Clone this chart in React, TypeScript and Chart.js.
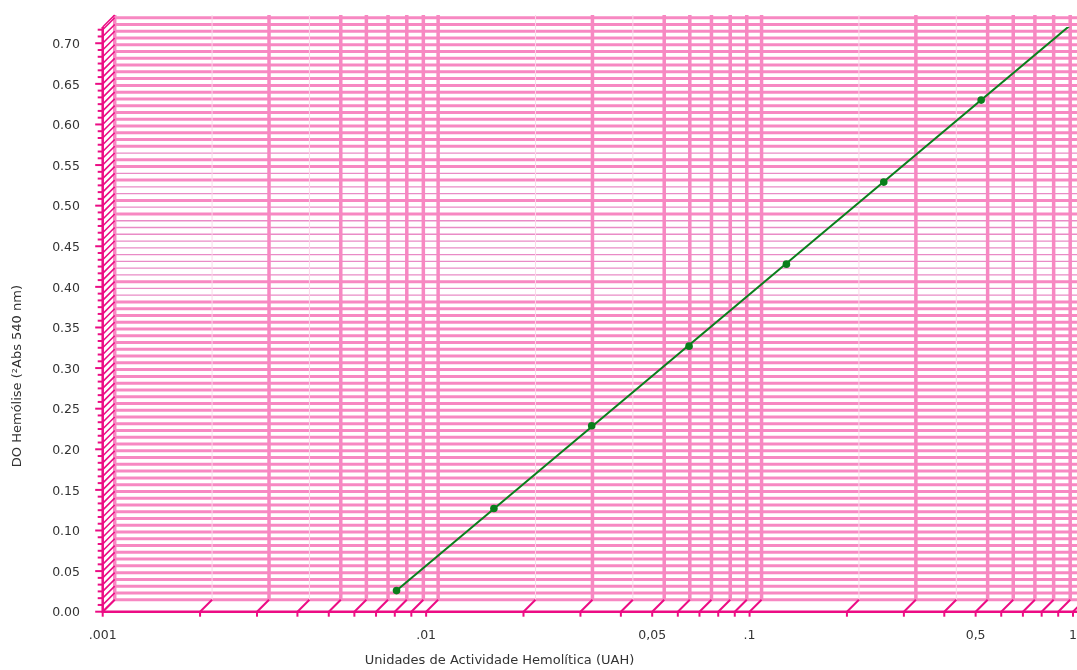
import React, { useEffect, useRef } from 'react';
import { Chart, registerables } from 'chart.js';

Chart.register(...registerables);

// ---- data ----
const sampleUAH = [0.0081, 0.0162, 0.0325, 0.065, 0.13, 0.26, 0.52];
const sampleDO = [0.026, 0.127, 0.229, 0.327, 0.428, 0.529, 0.63];
const fitUAH = [0.0081, 1];
const fitDO = [0.026, 0.725];

const xLabelValues = [0.001, 0.01, 0.05, 0.1, 0.5, 1];
const xLabelTexts = ['.001', '.01', '0,05', '.1', '0,5', '1'];
const xDecades = [0.001, 0.01, 0.1];
const xMultipliers = [1, 2, 3, 4, 5, 6, 7, 8, 9];
const xFaintMultipliers = [2, 4];

const yLabelTexts = ['0.00', '0.05', '0.10', '0.15', '0.20', '0.25', '0.30', '0.35', '0.40', '0.45', '0.50', '0.55', '0.60', '0.65', '0.70'];
const yMajorStep = 0.05;
const yMinorPerMajor = 6;
const yMax = 0.72;
const yThinRows = [45, 46, 48, 49, 50, 51, 52, 53, 54, 55, 56, 58, 60, 61, 63, 66];

const xTitle = 'Unidades de Actividade Hemolítica (UAH)';
const yTitle = 'DO Hemólise (²Abs 540 nm)';

// ---- derived tick lists ----
const xGrid: { v: number; m: number }[] = [];
xDecades.forEach((d) => xMultipliers.forEach((m) => xGrid.push({ v: +(d * m).toPrecision(6), m })));
xGrid.push({ v: 1, m: 1 });

const yGrid: number[] = [];
for (let k = 0; k * (yMajorStep / yMinorPerMajor) <= yMax + 1e-9; k++) {
  yGrid.push(+(k * (yMajorStep / yMinorPerMajor)).toFixed(6));
}

const FONT = "'DejaVu Sans', Verdana, sans-serif";
const DEEP = '#ec0c84';
const PINK = '#f788c2';
const THIN = '#e98bc6';
const FAINT = '#fbd8ea';
const GREEN = '#0a7f1c';
const TEXT = '#333333';
const D = 12;

const wallPlugin = {
  id: 'wall3d',
  beforeDatasetsDraw(chart: any) {
    const { ctx, chartArea: a, scales } = chart;
    const x = scales.x;
    const y = scales.y;
    const W = chart.width;
    ctx.save();
    ctx.lineCap = 'butt';
    const backTop = a.top - D;
    const backBottom = a.bottom - D;
    // horizontal back-wall lines
    yGrid.forEach((v, k) => {
      const py = y.getPixelForValue(v) - D;
      const thin = yThinRows.includes(k);
      ctx.strokeStyle = thin ? THIN : PINK;
      ctx.lineWidth = thin ? 1.3 : 3;
      ctx.beginPath();
      ctx.moveTo(a.left + D, py);
      ctx.lineTo(W, py);
      ctx.stroke();
    });
    // vertical back-wall lines
    xGrid.forEach(({ v, m }) => {
      const px = x.getPixelForValue(v) + D;
      const faint = xFaintMultipliers.includes(m);
      ctx.strokeStyle = faint ? FAINT : PINK;
      ctx.lineWidth = faint ? 1 : 3.5;
      ctx.beginPath();
      ctx.moveTo(px, backTop);
      ctx.lineTo(px, backBottom);
      ctx.stroke();
    });
    // left wall hatch
    ctx.strokeStyle = DEEP;
    ctx.lineWidth = 1.6;
    yGrid.forEach((v) => {
      const py = y.getPixelForValue(v);
      ctx.beginPath();
      ctx.moveTo(a.left, py);
      ctx.lineTo(a.left + D, py - D);
      ctx.stroke();
    });
    ctx.beginPath();
    ctx.moveTo(a.left, a.top);
    ctx.lineTo(a.left + D, a.top - D);
    ctx.stroke();
    // floor marks
    ctx.lineWidth = 2;
    xGrid.forEach(({ v }) => {
      const px = x.getPixelForValue(v);
      ctx.beginPath();
      ctx.moveTo(px, a.bottom);
      ctx.lineTo(px + D, a.bottom - D);
      ctx.stroke();
    });
    // front axes
    ctx.lineWidth = 2.5;
    ctx.beginPath();
    ctx.moveTo(a.left, a.top);
    ctx.lineTo(a.left, a.bottom);
    ctx.lineTo(W, a.bottom);
    ctx.stroke();
    // y ticks
    ctx.lineWidth = 2;
    yGrid.forEach((v, k) => {
      const py = y.getPixelForValue(v);
      const len = k % yMinorPerMajor === 0 ? 7.5 : 5;
      ctx.beginPath();
      ctx.moveTo(a.left, py);
      ctx.lineTo(a.left - len, py);
      ctx.stroke();
    });
    // x ticks
    xGrid.forEach(({ v }) => {
      const px = x.getPixelForValue(v);
      ctx.beginPath();
      ctx.moveTo(px, a.bottom);
      ctx.lineTo(px, a.bottom + 5);
      ctx.stroke();
    });
    // titles
    ctx.fillStyle = TEXT;
    ctx.font = `13px ${FONT}`;
    ctx.textAlign = 'center';
    ctx.textBaseline = 'middle';
    ctx.fillText(xTitle, 499.5, 661);
    ctx.save();
    ctx.translate(17.5, 285);
    ctx.rotate(-Math.PI / 2);
    ctx.textAlign = 'right';
    ctx.fillText(yTitle, 0, 0);
    ctx.restore();
    ctx.restore();
  },
};

export default function App() {
  const ref = useRef<HTMLCanvasElement | null>(null);
  useEffect(() => {
    if (!ref.current) return;
    const chart = new Chart(ref.current, {
      type: 'line',
      data: {
        datasets: [
          {
            label: 'fit',
            data: fitUAH.map((v, i) => ({ x: v, y: fitDO[i] })),
            borderColor: GREEN,
            borderWidth: 2,
            pointRadius: 0,
            fill: false,
          },
          {
            label: 'samples',
            data: sampleUAH.map((v, i) => ({ x: v, y: sampleDO[i] })),
            showLine: false,
            pointRadius: 3.8,
            pointBackgroundColor: GREEN,
            pointBorderColor: GREEN,
            pointBorderWidth: 0,
          },
        ],
      },
      options: {
        animation: false,
        responsive: true,
        maintainAspectRatio: false,
        layout: { padding: { top: 27, right: 1, left: 0, bottom: 0 } },
        plugins: { legend: { display: false }, tooltip: { enabled: false }, title: { display: false } },
        scales: {
          x: {
            type: 'logarithmic',
            min: 0.001,
            max: 1,
            grid: { display: false, drawTicks: false },
            border: { display: false },
            afterBuildTicks: (s: any) => {
              s.ticks = xGrid.map((g) => ({ value: g.v }));
            },
            afterFit: (s: any) => {
              s.height = 670 - 611.7;
              s.paddingLeft = 0;
              s.paddingRight = 0;
            },
            ticks: {
              autoSkip: false,
              maxRotation: 0,
              minRotation: 0,
              padding: 16.5,
              color: TEXT,
              font: { family: FONT, size: 12.5 },
              callback: (value: any) => {
                const i = xLabelValues.findIndex((lv) => Math.abs(lv - Number(value)) < lv * 1e-6);
                return i >= 0 ? xLabelTexts[i] : '';
              },
            },
          },
          y: {
            type: 'linear',
            min: 0,
            max: yMax,
            grid: { display: false, drawTicks: false },
            border: { display: false },
            afterBuildTicks: (s: any) => {
              s.ticks = yGrid.map((v) => ({ value: v }));
            },
            afterFit: (s: any) => {
              s.width = 102.7;
              s.paddingTop = 0;
              s.paddingBottom = 0;
            },
            ticks: {
              autoSkip: false,
              padding: 22.7,
              labelOffset: 1.5,
              color: TEXT,
              font: { family: FONT, size: 12.5 },
              callback: (_v: any, index: number) =>
                index % yMinorPerMajor === 0 ? yLabelTexts[index / yMinorPerMajor] ?? '' : '',
            },
          },
        },
      },
      plugins: [wallPlugin],
    } as any);
    return () => chart.destroy();
  }, []);
  return (
    <div style={{ position: 'fixed', left: 0, top: 0, width: 1077, height: 670, background: '#ffffff' }}>
      <canvas ref={ref} />
    </div>
  );
}
